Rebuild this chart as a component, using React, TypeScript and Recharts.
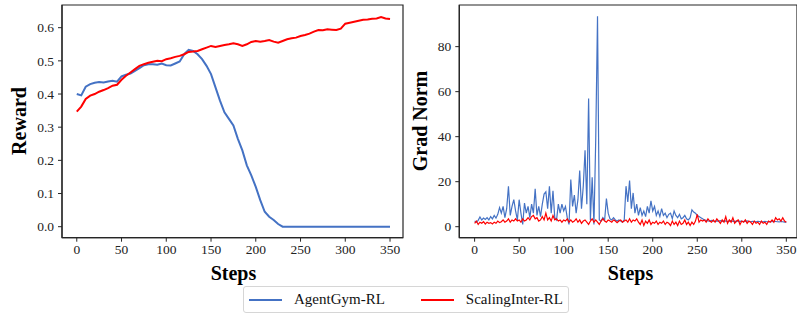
import React from 'react';
import { LineChart, Line, XAxis, YAxis, ReferenceArea } from 'recharts';

// ---- Data ----
const rewardSteps = [
  0, 5, 10, 15, 20, 25, 30, 35, 40, 45, 50, 55, 60, 65, 70, 75, 80, 85, 90, 95,
  100, 105, 110, 115, 120, 125, 130, 135, 140, 145, 150, 155, 160, 165, 170, 175, 180, 185, 190, 195,
  200, 205, 210, 215, 220, 225, 230, 235, 240, 245, 250, 255, 260, 265, 270, 275, 280, 285, 290, 295,
  300, 305, 310, 315, 320, 325, 330, 335, 340, 345, 350,
];
const rewardAgentGym = [
  0.400, 0.396, 0.422, 0.430, 0.434, 0.436, 0.435, 0.438, 0.440, 0.437, 0.453, 0.458, 0.462, 0.470, 0.478, 0.487, 0.490, 0.490, 0.488, 0.492,
  0.487, 0.486, 0.492, 0.498, 0.520, 0.533, 0.530, 0.520, 0.505, 0.485, 0.460, 0.420, 0.380, 0.345, 0.325, 0.305, 0.265, 0.230, 0.185, 0.155,
  0.120, 0.080, 0.045, 0.030, 0.020, 0.008, 0.000, 0.000, 0.000, 0.000, 0.000, 0.000, 0.000, 0.000, 0.000, 0.000, 0.000, 0.000, 0.000, 0.000,
  0.000, 0.000, 0.000, 0.000, 0.000, 0.000, 0.000, 0.000, 0.000, 0.000, 0.000,
];
const rewardScalingInter = [
  0.347, 0.362, 0.385, 0.395, 0.400, 0.407, 0.412, 0.418, 0.425, 0.428, 0.443, 0.455, 0.465, 0.475, 0.485, 0.490, 0.494, 0.497, 0.500, 0.499,
  0.505, 0.508, 0.512, 0.515, 0.520, 0.527, 0.528, 0.530, 0.535, 0.540, 0.545, 0.542, 0.545, 0.548, 0.550, 0.553, 0.550, 0.545, 0.550, 0.557,
  0.560, 0.558, 0.560, 0.563, 0.558, 0.555, 0.560, 0.565, 0.568, 0.570, 0.575, 0.578, 0.582, 0.588, 0.593, 0.592, 0.595, 0.594, 0.593, 0.597,
  0.612, 0.615, 0.618, 0.621, 0.624, 0.625, 0.627, 0.628, 0.632, 0.628, 0.626,
];

const gradSteps = Array.from({ length: 176 }, (_, i) => i * 2);
const gradAgentGym = [
  2.5, 2.0, 2.8, 4.3, 3.0, 3.8, 3.2, 4.0, 3.0, 4.5, 3.5, 5.0, 3.8, 5.5, 8.5, 6.0, 9.0, 4.0, 8.0, 18.0,
  5.0, 9.0, 12.0, 7.0, 3.0, 12.0, 6.0, 1.0, 10.5, 6.0, 9.0, 4.0, 10.0, 6.0, 16.8, 5.0, 9.0, 4.5, 10.0, 14.5,
  15.5, 8.0, 18.0, 6.0, 16.0, 4.0, 3.0, 10.0, 6.0, 10.0, 7.0, 9.0, 4.0, 1.0, 21.0, 9.0, 14.0, 6.0, 12.0, 25.0,
  8.0, 18.0, 34.0, 10.0, 57.0, 3.0, 22.0, 1.0, 39.0, 93.5, 3.0, 2.5, 4.0, 3.0, 12.5, 6.0, 3.5, 3.0, 4.0, 3.0,
  2.5, 3.0, 2.5, 2.0, 3.0, 18.0, 11.0, 20.5, 8.0, 15.0, 6.0, 10.0, 5.0, 8.5, 5.0, 7.0, 4.5, 9.0, 6.0, 11.5,
  7.0, 9.0, 5.0, 7.0, 4.5, 8.0, 5.0, 6.0, 4.0, 5.5, 6.0, 3.5, 7.0, 5.0, 4.0, 5.5, 3.5, 4.0, 5.0, 3.5,
  3.0, 4.0, 7.5, 6.5, 6.0, 5.0, 4.5, 4.0, 3.5, 3.0, 2.8, 2.6, 2.5, 2.8, 2.5, 2.4, 2.6, 2.5, 2.7, 2.4,
  2.5, 2.6, 2.3, 2.5, 2.7, 2.4, 2.5, 2.3, 2.6, 2.4, 2.5, 2.3, 2.4, 2.6, 2.3, 2.2, 2.4, 2.3, 2.2, 2.4,
  2.3, 2.1, 2.2, 2.4, 2.2, 2.1, 2.3, 2.2, 2.4, 2.3, 2.2, 2.1, 2.3, 2.2, 2.0, 2.0,
];
const gradScalingInter = [
  1.5, 2.5, 1.0, 2.0, 1.5, 2.2, 1.2, 2.0, 1.5, 1.8, 1.2, 2.0, 1.5, 2.5, 1.8, 2.2, 3.0, 2.0, 2.5, 3.5,
  2.0, 3.0, 2.5, 3.5, 2.5, 3.0, 2.0, 3.5, 2.5, 3.0, 4.0, 3.0, 4.5, 5.0, 3.5, 4.0, 2.5, 3.0, 4.5, 3.0,
  6.0, 3.0, 4.0, 2.5, 5.0, 3.0, 3.5, 2.5, 3.0, 2.0, 3.0, 2.5, 3.5, 2.0, 3.0, 2.0, 2.5, 3.5, 2.0, 3.0,
  1.5, 2.5, 3.0, 2.0, 1.0, 2.5, 3.5, 2.0, 3.0, 2.0, 1.0, 2.5, 3.5, 2.5, 2.0, 3.0, 2.5, 2.0, 3.0, 2.5,
  1.8, 2.5, 3.0, 2.0, 2.5, 3.0, 2.0, 3.5, 2.0, 3.0, 2.5, 3.5, 2.0, 1.0, 3.0, 0.5, 2.5, 1.5, 3.0, 1.0,
  2.0, 1.5, 2.5, 1.0, 2.0, 1.5, 2.5, 1.0, 2.0, 1.5, 0.5, 2.5, 1.0, 2.0, 0.5, 2.5, 1.0, 1.5, 3.0, 1.0,
  2.0, 0.5, 2.0, 1.0, 2.5, 5.5, 2.0, 3.0, 2.5, 3.0, 2.0, 3.5, 2.5, 2.0, 3.0, 2.0, 3.5, 2.5, 1.5, 3.0,
  2.0, 4.5, 1.5, 3.0, 2.0, 4.0, 1.5, 2.5, 3.0, 1.0, 2.5, 2.0, 3.0, 1.5, 2.5, 2.0, 1.0, 2.5, 1.5, 2.0,
  1.0, 2.5, 1.5, 2.0, 1.0, 2.5, 2.0, 3.0, 2.0, 4.0, 3.0, 3.5, 2.5, 4.0, 2.5, 2.0,
];

const stepTicks = [0, 50, 100, 150, 200, 250, 300, 350];
const rewardTicks = [0, 0.1, 0.2, 0.3, 0.4, 0.5, 0.6];
const gradTicks = [0, 20, 40, 60, 80];

const seriesNames = ['AgentGym-RL', 'ScalingInter-RL'];
const seriesColors = ['#4472C4', '#FF0000'];

const rewardData = rewardSteps.map((s, i) => ({ step: s, a: rewardAgentGym[i], b: rewardScalingInter[i] }));
const gradData = gradSteps.map((s, i) => ({ step: s, a: gradAgentGym[i], b: gradScalingInter[i] }));

const FONT = '"Liberation Serif", "Times New Roman", serif';
const tickStyle = { fontFamily: FONT, fontSize: 13.5, fill: '#222' };
const axisColor = '#262626';

export default function App() {
  const rewardX: [number, number] = [-16.5, 364.5];
  const rewardY: [number, number] = [-0.0332, 0.6684];
  const gradX: [number, number] = [-17.2, 362];
  const gradY: [number, number] = [-4.89, 98.5];
  return (
    <div style={{ position: 'absolute', left: 0, top: 0, width: 797, height: 315, overflow: 'hidden', background: '#fff', fontFamily: FONT }}>
      <div style={{ position: 'absolute', left: 0, top: 0, fontFamily: FONT }}>
        <LineChart width={420} height={315} data={rewardData} margin={{ top: 5, right: 17, bottom: 0, left: 0 }} style={{ fontFamily: FONT }}>
          <XAxis
            dataKey="step"
            type="number"
            domain={rewardX}
            ticks={stepTicks}
            allowDataOverflow
            height={77.3}
            tick={tickStyle}
            tickSize={4}
            tickMargin={3}
            stroke={axisColor}
            axisLine={{ stroke: axisColor, strokeWidth: 1.2 }}
            tickLine={{ stroke: axisColor }}
          />
          <YAxis
            type="number"
            domain={rewardY}
            ticks={rewardTicks}
            allowDataOverflow
            width={62}
            tick={tickStyle}
            tickSize={4}
            tickMargin={4}
            tickFormatter={(v: number) => v.toFixed(1)}
            stroke={axisColor}
            axisLine={{ stroke: axisColor, strokeWidth: 1.2 }}
            tickLine={{ stroke: axisColor }}
          />
          <ReferenceArea x1={rewardX[0]} x2={rewardX[1]} y1={rewardY[0]} y2={rewardY[1]} fill="none" stroke={axisColor} strokeWidth={1.2} />
          <Line dataKey="a" name={seriesNames[0]} stroke={seriesColors[0]} strokeWidth={2} dot={false} isAnimationActive={false} type="linear" />
          <Line dataKey="b" name={seriesNames[1]} stroke={seriesColors[1]} strokeWidth={2} dot={false} isAnimationActive={false} type="linear" />
        </LineChart>
      </div>
      <div style={{ position: 'absolute', left: 400, top: 0, fontFamily: FONT }}>
        <LineChart width={397} height={315} data={gradData} margin={{ top: 5, right: 0, bottom: 0, left: 0 }} style={{ fontFamily: FONT }}>
          <XAxis
            dataKey="step"
            type="number"
            domain={gradX}
            ticks={stepTicks}
            allowDataOverflow
            height={77.3}
            tick={tickStyle}
            tickSize={4}
            tickMargin={3}
            stroke={axisColor}
            axisLine={{ stroke: axisColor, strokeWidth: 1.2 }}
            tickLine={{ stroke: axisColor }}
          />
          <YAxis
            type="number"
            domain={gradY}
            ticks={gradTicks}
            allowDataOverflow
            width={59.3}
            tick={tickStyle}
            tickSize={4}
            tickMargin={4}
            stroke={axisColor}
            axisLine={{ stroke: axisColor, strokeWidth: 1.2 }}
            tickLine={{ stroke: axisColor }}
          />
          <ReferenceArea x1={gradX[0]} x2={gradX[1]} y1={gradY[0]} y2={gradY[1]} fill="none" stroke={axisColor} strokeWidth={1.2} />
          <Line dataKey="a" name={seriesNames[0]} stroke={seriesColors[0]} strokeWidth={1.2} dot={false} isAnimationActive={false} type="linear" />
          <Line dataKey="b" name={seriesNames[1]} stroke={seriesColors[1]} strokeWidth={1.2} dot={false} isAnimationActive={false} type="linear" />
        </LineChart>
      </div>
      <svg width={797} height={315} style={{ position: 'absolute', left: 0, top: 0, pointerEvents: 'none' }}>
        <text x={0} y={0} transform="translate(25.5,121) rotate(-90)" textAnchor="middle" fontFamily={FONT} fontWeight="bold" fontSize={20} fill="#000">Reward</text>
        <text x={0} y={0} transform="translate(426.5,121) rotate(-90)" textAnchor="middle" fontFamily={FONT} fontWeight="bold" fontSize={20} fill="#000">Grad Norm</text>
        <text x={233.5} y={279.5} textAnchor="middle" fontFamily={FONT} fontWeight="bold" fontSize={20} fill="#000">Steps</text>
        <text x={630.5} y={279.5} textAnchor="middle" fontFamily={FONT} fontWeight="bold" fontSize={20} fill="#000">Steps</text>
      </svg>
      <div
        style={{
          position: 'absolute', left: 243, top: 286, width: 326, height: 27, boxSizing: 'border-box',
          border: '1px solid #d6d6d6', borderRadius: 3, background: '#fff',
          display: 'flex', alignItems: 'center', fontFamily: FONT, fontSize: 15, color: '#111',
        }}
      >
        {seriesNames.map((n, i) => (
          <div key={n} style={{ display: 'flex', alignItems: 'center', marginLeft: i === 0 ? 5 : 36 }}>
            <div style={{ width: 33, height: 2, background: seriesColors[i] }} />
            <span style={{ marginLeft: 12 }}>{n}</span>
          </div>
        ))}
      </div>
    </div>
  );
}
